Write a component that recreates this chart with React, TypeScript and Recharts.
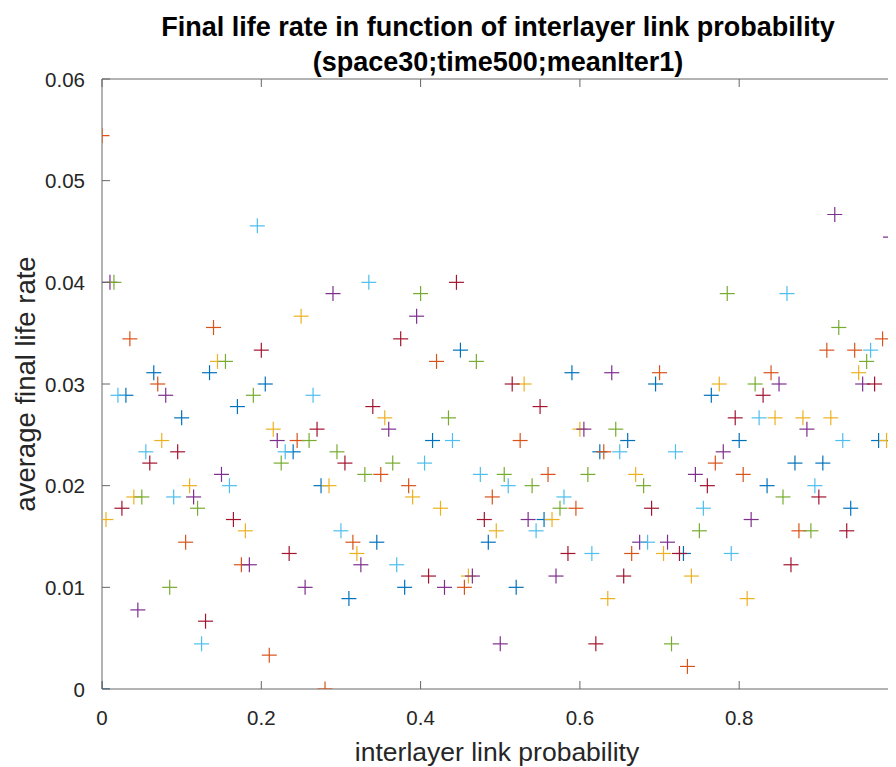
import React from 'react';
import { ScatterChart, Scatter, XAxis, YAxis, ReferenceLine } from 'recharts';

// x = interlayer link probability, y = average final life rate
const blueX = [0, 0.03, 0.065, 0.1, 0.135, 0.17, 0.205, 0.24, 0.275, 0.31, 0.345, 0.38, 0.415, 0.45, 0.485, 0.52, 0.555, 0.59, 0.625, 0.66, 0.695, 0.73, 0.765, 0.8, 0.835, 0.87, 0.905, 0.94, 0.975];
const blueY = [0, 0.02889, 0.03111, 0.02667, 0.03111, 0.02778, 0.03, 0.02333, 0.02, 0.00889, 0.01444, 0.01, 0.02444, 0.03333, 0.01444, 0.01, 0.01667, 0.03111, 0.02333, 0.02444, 0.03, 0.01333, 0.02889, 0.02444, 0.02, 0.02222, 0.02222, 0.01778, 0.02444];

const orangeX = [0, 0.035, 0.07, 0.105, 0.14, 0.175, 0.21, 0.245, 0.28, 0.315, 0.35, 0.385, 0.42, 0.455, 0.49, 0.525, 0.56, 0.595, 0.63, 0.665, 0.7, 0.735, 0.77, 0.805, 0.84, 0.875, 0.91, 0.945, 0.98];
const orangeY = [0.05444, 0.03444, 0.03, 0.01444, 0.03556, 0.01222, 0.00333, 0.02444, 0, 0.01444, 0.02111, 0.02, 0.03222, 0.01, 0.01889, 0.02444, 0.02111, 0.01778, 0.02333, 0.01333, 0.03111, 0.00222, 0.02222, 0.02111, 0.03111, 0.01556, 0.03333, 0.03333, 0.03444];

const yellowX = [0.005, 0.04, 0.075, 0.11, 0.145, 0.18, 0.215, 0.25, 0.285, 0.32, 0.355, 0.39, 0.425, 0.46, 0.495, 0.53, 0.565, 0.6, 0.635, 0.67, 0.705, 0.74, 0.775, 0.81, 0.845, 0.88, 0.915, 0.95, 0.985];
const yellowY = [0.01667, 0.01889, 0.02444, 0.02, 0.03222, 0.01556, 0.02556, 0.03667, 0.02, 0.01333, 0.02667, 0.01889, 0.01778, 0.01111, 0.01556, 0.03, 0.01667, 0.02556, 0.00889, 0.02111, 0.01333, 0.01111, 0.03, 0.00889, 0.02667, 0.02667, 0.02667, 0.03111, 0.02444];

const purpleX = [0.01, 0.045, 0.08, 0.115, 0.15, 0.185, 0.22, 0.255, 0.29, 0.325, 0.36, 0.395, 0.43, 0.465, 0.5, 0.535, 0.57, 0.605, 0.64, 0.675, 0.71, 0.745, 0.78, 0.815, 0.85, 0.885, 0.92, 0.955, 0.99];
const purpleY = [0.04, 0.00778, 0.02889, 0.01889, 0.02111, 0.01222, 0.02444, 0.01, 0.03889, 0.01222, 0.02556, 0.03667, 0.01, 0.01111, 0.00444, 0.01667, 0.01111, 0.02556, 0.03111, 0.01444, 0.01444, 0.02111, 0.02333, 0.01667, 0.03, 0.02556, 0.04667, 0.03, 0.04444];

const greenX = [0.015, 0.05, 0.085, 0.12, 0.155, 0.19, 0.225, 0.26, 0.295, 0.33, 0.365, 0.4, 0.435, 0.47, 0.505, 0.54, 0.575, 0.61, 0.645, 0.68, 0.715, 0.75, 0.785, 0.82, 0.855, 0.89, 0.925, 0.96, 0.995];
const greenY = [0.04, 0.01889, 0.01, 0.01778, 0.03222, 0.02889, 0.02222, 0.02444, 0.02333, 0.02111, 0.02222, 0.03889, 0.02667, 0.03222, 0.02111, 0.02, 0.01778, 0.02111, 0.02556, 0.02, 0.00444, 0.01556, 0.03889, 0.03, 0.01889, 0.01556, 0.03556, 0.03222, 0.02444];

const lightBlueX = [0.02, 0.055, 0.09, 0.125, 0.16, 0.195, 0.23, 0.265, 0.3, 0.335, 0.37, 0.405, 0.44, 0.475, 0.51, 0.545, 0.58, 0.615, 0.65, 0.685, 0.72, 0.755, 0.79, 0.825, 0.86, 0.895, 0.93, 0.965, 1];
const lightBlueY = [0.02889, 0.02333, 0.01889, 0.00444, 0.02, 0.04556, 0.02333, 0.02889, 0.01556, 0.04, 0.01222, 0.02222, 0.02444, 0.02111, 0.02, 0.01556, 0.01889, 0.01333, 0.02333, 0.01444, 0.02333, 0.01778, 0.01333, 0.02667, 0.03889, 0.02, 0.02444, 0.03333, 0.03];

const darkRedX = [0.025, 0.06, 0.095, 0.13, 0.165, 0.2, 0.235, 0.27, 0.305, 0.34, 0.375, 0.41, 0.445, 0.48, 0.515, 0.55, 0.585, 0.62, 0.655, 0.69, 0.725, 0.76, 0.795, 0.83, 0.865, 0.9, 0.935, 0.97];
const darkRedY = [0.01778, 0.02222, 0.02333, 0.00667, 0.01667, 0.03333, 0.01333, 0.02556, 0.02222, 0.02778, 0.03444, 0.01111, 0.04, 0.01667, 0.03, 0.02778, 0.01333, 0.00444, 0.01111, 0.01778, 0.01333, 0.02, 0.02667, 0.02889, 0.01222, 0.01889, 0.01556, 0.03];

const xTicks = [0, 0.2, 0.4, 0.6, 0.8, 1];
const yTicks = [0, 0.01, 0.02, 0.03, 0.04, 0.05, 0.06];

const TITLE1 = 'Final life rate in function of interlayer link probability';
const TITLE2 = '(space30;time500;meanIter1)';
const XLABEL = 'interlayer link probability';
const YLABEL = 'average final life rate';

const series = [
  { name: 'blue', color: '#0072BD', xs: blueX, ys: blueY },
  { name: 'orange', color: '#D95319', xs: orangeX, ys: orangeY },
  { name: 'yellow', color: '#EDB120', xs: yellowX, ys: yellowY },
  { name: 'purple', color: '#7E2F8E', xs: purpleX, ys: purpleY },
  { name: 'green', color: '#77AC30', xs: greenX, ys: greenY },
  { name: 'lightblue', color: '#4DBEEE', xs: lightBlueX, ys: lightBlueY },
  { name: 'darkred', color: '#A2142F', xs: darkRedX, ys: darkRedY },
];

const FONT = '"Liberation Sans", Arial, Helvetica, sans-serif';
const AX = '#666666';
const TXT = '#262626';

const W = 900;
const H = 759;
const PL = 94;
const PT = 71;
const PR = 890.5;
const PB = 681;

const plus = (color: string) => (props: any) => {
  const { cx, cy } = props;
  if (cx == null || cy == null) return <g />;
  const a = 7.5;
  return (
    <g>
      <line x1={cx - a} x2={cx + a} y1={cy} y2={cy} stroke={color} strokeWidth={1.2} />
      <line x1={cx} x2={cx} y1={cy - a} y2={cy + a} stroke={color} strokeWidth={1.2} />
    </g>
  );
};

const XTick = (props: any) => {
  const { x, payload } = props;
  return (
    <g>
      <line x1={x} x2={x} y1={PB} y2={PB - 8} stroke={AX} strokeWidth={1} />
      <line x1={x} x2={x} y1={PT} y2={PT + 8} stroke={AX} strokeWidth={1} />
      <text x={x} y={PB + 28} textAnchor="middle" dominantBaseline="central" fill={TXT} fontSize={20.5} fontFamily={FONT}>
        {String(payload.value)}
      </text>
    </g>
  );
};

const YTick = (props: any) => {
  const { y, payload } = props;
  return (
    <g>
      <line x1={PL} x2={PL + 8} y1={y} y2={y} stroke={AX} strokeWidth={1} />
      <line x1={PR} x2={PR - 8} y1={y} y2={y} stroke={AX} strokeWidth={1} />
      <text x={PL - 17} y={y} textAnchor="end" dominantBaseline="central" fill={TXT} fontSize={20.5} fontFamily={FONT}>
        {String(payload.value)}
      </text>
    </g>
  );
};

export default function App() {
  return (
    <div style={{ position: 'relative', width: 888, height: H, overflow: 'hidden', background: '#fff' }}>
      <div
        style={{
          position: 'absolute',
          left: 40,
          top: 2,
          width: 900,
          textAlign: 'center',
          fontFamily: FONT,
          fontWeight: 'bold',
          fontSize: 27,
          lineHeight: '35px',
          color: '#000',
          whiteSpace: 'nowrap',
        }}
      >
        <div>{TITLE1}</div>
        <div>{TITLE2}</div>
      </div>
      <ScatterChart width={W} height={H} margin={{ top: PT, right: W - PR, bottom: 0, left: 0 }}>
        <XAxis
          type="number"
          dataKey="x"
          domain={[0, 1]}
          ticks={xTicks}
          interval={0}
          height={H - PB}
          axisLine={{ stroke: AX, strokeWidth: 1 }}
          tickLine={false}
          tickSize={0}
          tick={<XTick />}
          allowDataOverflow
          label={{
            content: () => (
              <text x={489} y={744} textAnchor="middle" dominantBaseline="central" fill={TXT} fontSize={26.5} fontFamily={FONT}>
                {XLABEL}
              </text>
            ),
          }}
        />
        <YAxis
          type="number"
          dataKey="y"
          domain={[0, 0.06]}
          ticks={yTicks}
          interval={0}
          width={PL}
          axisLine={{ stroke: AX, strokeWidth: 1 }}
          tickLine={false}
          tickSize={0}
          tick={<YTick />}
          allowDataOverflow
          label={{
            content: () => (
              <text
                x={17}
                y={376}
                textAnchor="middle"
                dominantBaseline="central"
                fill={TXT}
                fontSize={27.5}
                fontFamily={FONT}
                transform="rotate(-90 17 376)"
              >
                {YLABEL}
              </text>
            ),
          }}
        />
        <ReferenceLine y={0.06} stroke={AX} strokeWidth={1} ifOverflow="extendDomain" />
        <ReferenceLine x={1} stroke={AX} strokeWidth={1} ifOverflow="extendDomain" />
        {series.map((s) => (
          <Scatter
            key={s.name}
            name={s.name}
            data={s.xs.map((x, i) => ({ x, y: s.ys[i] }))}
            fill={s.color}
            shape={plus(s.color)}
            isAnimationActive={false}
          />
        ))}
      </ScatterChart>
    </div>
  );
}
